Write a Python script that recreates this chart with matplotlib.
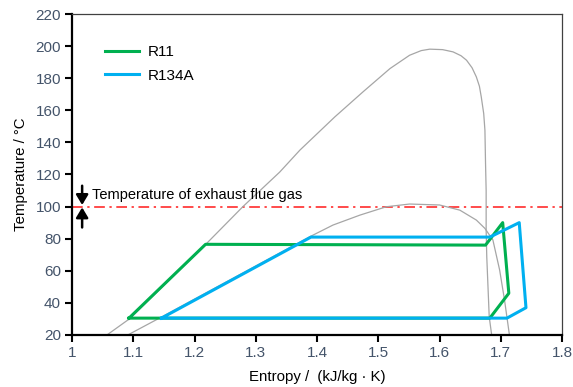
import numpy as np
import matplotlib.pyplot as plt

plt.rcParams['font.family'] = ['Liberation Sans', 'DejaVu Sans']

# saturation dome of R11
dome1_s = [1.057, 1.095, 1.217, 1.279, 1.339, 1.372, 1.429, 1.475, 1.519, 1.551,
           1.570, 1.584, 1.605, 1.622, 1.635, 1.644, 1.653, 1.660, 1.665, 1.668,
           1.672, 1.674, 1.675, 1.676, 1.676, 1.677, 1.681, 1.685]
dome1_t = [20, 30.4, 76, 100, 121.5, 135.2, 155.9, 171.5, 186, 194.3,
           197.2, 198.1, 197.8, 196.4, 194, 191.2, 186.5, 180.8, 175, 168.4,
           158, 147.6, 126.9, 110, 85.4, 68.8, 31.4, 20]

# saturation dome of R134A
dome2_s = [1.091, 1.145, 1.388, 1.426, 1.470, 1.513, 1.551, 1.600, 1.633, 1.660,
           1.674, 1.687, 1.698, 1.706, 1.714]
dome2_t = [20, 31, 81.2, 88.5, 94.7, 99.9, 101.6, 101, 97.8, 91.6,
           86.4, 79.2, 60.5, 41.8, 20]

# cycles
r11_s = [1.093, 1.218, 1.675, 1.703, 1.713, 1.682, 1.093]
r11_t = [30.5, 76.5, 76, 90, 46, 30.5, 30.5]
r134_s = [1.146, 1.390, 1.682, 1.730, 1.741, 1.710, 1.146]
r134_t = [30.5, 81, 81, 90, 37, 30.5, 30.5]

flue_t = 100

fig = plt.figure(figsize=(5.73, 3.87), dpi=100)
ax = fig.add_axes([0.1257, 0.1344, 0.8553, 0.8294])

ax.plot(dome1_s, dome1_t, color='#a6a6a6', lw=0.9, zorder=2)
ax.plot(dome2_s, dome2_t, color='#a6a6a6', lw=0.9, zorder=2)
ax.plot(r11_s, r11_t, color='#00b050', lw=2.2, label='R11', zorder=3)
ax.plot(r134_s, r134_t, color='#00b0f0', lw=2.2, label='R134A', zorder=4)

ax.axhline(flue_t, color='#ff1a1a', lw=1.1, ls=(0, (7, 3, 1.5, 3)), zorder=1)

# arrows around the flue gas line
arrow = dict(arrowstyle='-|>,head_length=0.5,head_width=0.3', color='black', lw=1.8,
             shrinkA=0, shrinkB=0, mutation_scale=12)
ax.annotate('', xy=(1.0165, 101), xytext=(1.0165, 113), arrowprops=arrow)
ax.annotate('', xy=(1.0165, 99.5), xytext=(1.0165, 87), arrowprops=arrow)
ax.text(1.033, 107.5, 'Temperature of exhaust flue gas', fontsize=10.5, va='center')

ax.set_xlim(1, 1.8)
ax.set_ylim(20, 220)
ax.set_xticks(np.arange(1, 1.81, 0.1))
ax.set_xticklabels(['1', '1.1', '1.2', '1.3', '1.4', '1.5', '1.6', '1.7', '1.8'])
ax.set_yticks(np.arange(20, 221, 20))

ax.tick_params(direction='out', length=5, width=1.5, labelsize=11, labelcolor='#44546a', pad=3)
for side in ['left', 'bottom']:
    ax.spines[side].set_linewidth(1.6)
    ax.spines[side].set_color('black')
for side in ['top', 'right']:
    ax.spines[side].set_linewidth(0.9)
    ax.spines[side].set_color('#404040')

ax.set_xlabel('Entropy /  (kJ/kg · K)', fontsize=10.8, labelpad=7)
ax.set_ylabel('Temperature / °C', fontsize=10.8, labelpad=5)

ax.legend(loc='upper left', bbox_to_anchor=(0.04, 0.945), frameon=False, fontsize=11,
          handlelength=2.2, handletextpad=0.6, labelspacing=0.6)

fig.savefig('out.png', dpi=100)
